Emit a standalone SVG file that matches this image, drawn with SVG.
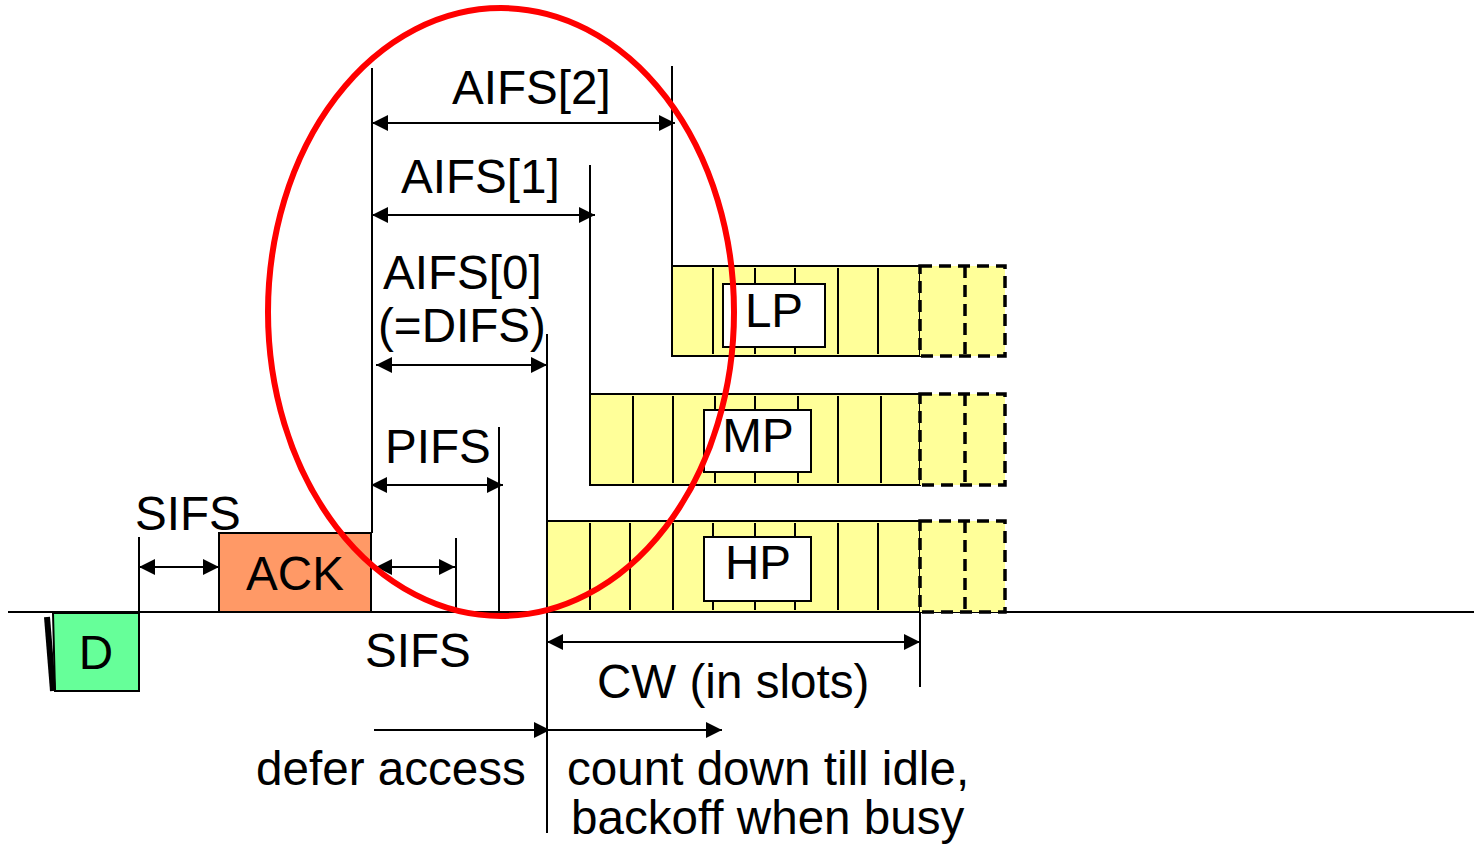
<svg xmlns="http://www.w3.org/2000/svg" width="1474" height="844" viewBox="0 0 1474 844">
<style>
text{font-family:"Liberation Sans",Arial,sans-serif;font-size:47.6px;fill:#000}
.ln{stroke:#000;stroke-width:2;fill:none}
.slot{stroke:#000;stroke-width:2}
.row{fill:#FFFF99;stroke:#000;stroke-width:2}
.dash{fill:#FFFF99;stroke:#000;stroke-width:3.5;stroke-dasharray:12 7}
.lbl{fill:#fff;stroke:#000;stroke-width:2}
.arr{stroke:#000;stroke-width:2;fill:none;marker-end:url(#ah)}
.arr2{stroke:#000;stroke-width:2;fill:none;marker-start:url(#ahs);marker-end:url(#ah)}
</style>
<defs>
<marker id="ah" markerUnits="userSpaceOnUse" markerWidth="17" markerHeight="16" refX="16" refY="8" orient="auto"><path d="M0,0 L16,8 L0,16 Z" fill="#000"/></marker>
<marker id="ahs" markerUnits="userSpaceOnUse" markerWidth="17" markerHeight="16" refX="0" refY="8" orient="auto"><path d="M16,0 L0,8 L16,16 Z" fill="#000"/></marker>
</defs>
<rect width="1474" height="844" fill="#fff"/>
<g id="timeline"><line class="ln" x1="8" y1="612" x2="1474" y2="612"/></g>
<g id="D">
<polygon points="53,613 139,613 139,691 55,691" fill="#66FF99" stroke="#000" stroke-width="2"/>
<line x1="47" y1="617" x2="53" y2="691" stroke="#000" stroke-width="6"/>
<text x="96" y="669" text-anchor="middle">D</text>
</g>
<g id="ACK">
<rect x="219" y="533" width="152" height="79" fill="#FF9966" stroke="#000" stroke-width="2"/>
<text x="295" y="590" text-anchor="middle">ACK</text>
</g>
<g id="LP">
<rect class="row" x="672" y="266" width="248" height="90"/>
<g class="slot"><line x1="713" y1="268" x2="713" y2="354"/><line x1="755" y1="268" x2="755" y2="354"/><line x1="795" y1="268" x2="795" y2="354"/><line x1="838" y1="268" x2="838" y2="354"/><line x1="878" y1="268" x2="878" y2="354"/></g>
<rect class="dash" x="920" y="266" width="85" height="90"/>
<line class="dash" x1="965" y1="266" x2="965" y2="356"/>
<rect class="lbl" x="723" y="284" width="102" height="63"/>
<text x="774" y="327" text-anchor="middle">LP</text>
</g>
<g id="MP">
<rect class="row" x="590" y="394" width="330" height="91"/>
<g class="slot"><line x1="633" y1="396" x2="633" y2="483"/><line x1="673" y1="396" x2="673" y2="483"/><line x1="715" y1="396" x2="715" y2="483"/><line x1="755" y1="396" x2="755" y2="483"/><line x1="798" y1="396" x2="798" y2="483"/><line x1="838" y1="396" x2="838" y2="483"/><line x1="881" y1="396" x2="881" y2="483"/></g>
<rect class="dash" x="920" y="394" width="85" height="91"/>
<line class="dash" x1="965" y1="394" x2="965" y2="485"/>
<rect class="lbl" x="704" y="410" width="107" height="62"/>
<text x="758" y="452" text-anchor="middle">MP</text>
</g>
<g id="HP">
<rect class="row" x="547" y="521" width="373" height="91"/>
<g class="slot"><line x1="590" y1="523" x2="590" y2="610"/><line x1="630" y1="523" x2="630" y2="610"/><line x1="673" y1="523" x2="673" y2="610"/><line x1="713" y1="523" x2="713" y2="610"/><line x1="755" y1="523" x2="755" y2="610"/><line x1="795" y1="523" x2="795" y2="610"/><line x1="838" y1="523" x2="838" y2="610"/><line x1="878" y1="523" x2="878" y2="610"/></g>
<rect class="dash" x="920" y="521" width="85" height="91"/>
<line class="dash" x1="965" y1="521" x2="965" y2="612"/>
<rect class="lbl" x="704" y="537" width="107" height="64"/>
<text x="758" y="579" text-anchor="middle">HP</text>
</g>
<g id="connectors">
<line class="ln" x1="139" y1="537" x2="139" y2="612"/>
<line class="ln" x1="372" y1="68" x2="372" y2="533"/>
<line class="ln" x1="672" y1="66" x2="672" y2="266"/>
<line class="ln" x1="590" y1="165" x2="590" y2="394"/>
<line class="ln" x1="547" y1="334" x2="547" y2="833"/>
<line class="ln" x1="499" y1="427" x2="499" y2="612"/>
<line class="ln" x1="456" y1="538" x2="456" y2="612"/>
<line class="ln" x1="920" y1="612" x2="920" y2="687"/>
<line class="arr2" x1="139" y1="567" x2="219" y2="567"/>
<line class="arr2" x1="372" y1="123" x2="675" y2="123"/>
<line class="arr2" x1="372" y1="215" x2="595" y2="215"/>
<line class="arr2" x1="376" y1="365" x2="547" y2="365"/>
<line class="arr2" x1="371" y1="485" x2="503" y2="485"/>
<line class="arr2" x1="376" y1="567" x2="455" y2="567"/>
<line class="arr2" x1="547" y1="642" x2="920" y2="642"/>
<line class="arr" x1="374" y1="730" x2="550" y2="730"/>
<line class="arr" x1="549" y1="730" x2="722" y2="730"/>
</g>
<g id="labels">
<text x="452" y="104">AIFS[2]</text>
<text x="401" y="193">AIFS[1]</text>
<text x="383" y="289">AIFS[0]</text>
<text x="378" y="342">(=DIFS)</text>
<text x="385" y="463">PIFS</text>
<text x="135" y="530">SIFS</text>
<text x="365" y="667">SIFS</text>
<text x="597" y="698">CW (in slots)</text>
<text x="256" y="785">defer access</text>
<text x="567" y="785">count down till idle,</text>
<text x="571" y="834">backoff when busy</text>
</g>
<g id="highlight">
<ellipse cx="501" cy="312" rx="233" ry="304" fill="none" stroke="#FF0000" stroke-width="6"/>
</g>
</svg>
